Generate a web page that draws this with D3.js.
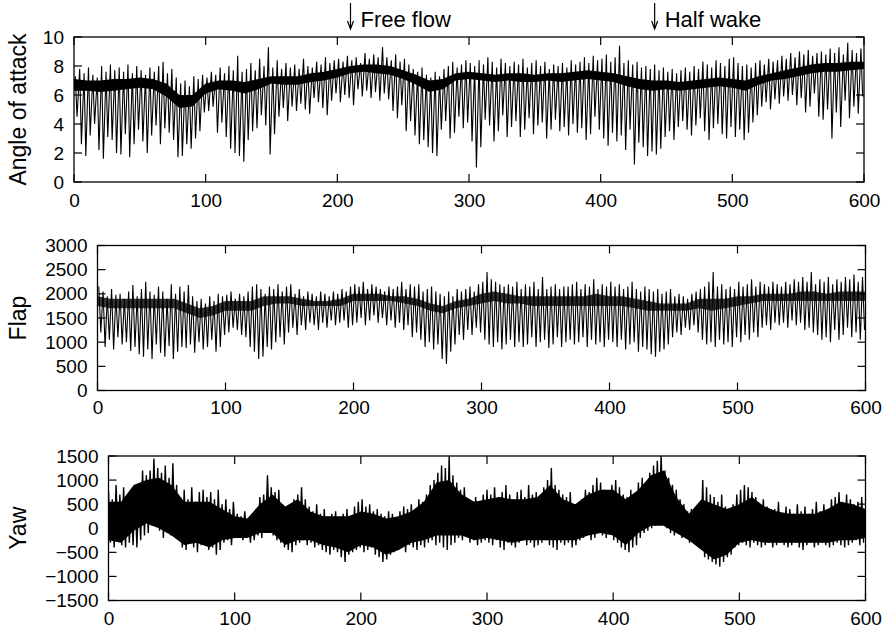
<!DOCTYPE html>
<html>
<head>
<meta charset="utf-8">
<script src="https://cdn.jsdelivr.net/npm/d3@7"></script>
<style>
  html, body { margin: 0; padding: 0; background: #fff; }
  svg { display: block; }
</style>
</head>
<body>
<script>
// ---- Time axis --------------------------------------------------------
const xTicks = [0, 100, 200, 300, 400, 500, 600];

// Rotor revolutions: one max/min pair per revolution (180 over 600 s)
const revTimes = d3.range(180).map(i => 1 + i * 10 / 3);
// Band envelopes sampled every 10 s
const bandTimes = d3.range(0, 601, 10);
// Yaw extremes sampled every 3 s
const yawTimes = d3.range(0, 600, 3);

// ---- Angle of attack (deg) --------------------------------------------
const aoaTicks = [0, 2, 4, 6, 8, 10];
const aoaMin = [
  4.5, 2.6, 1.8, 3.2, 4.0, 2.2, 1.6, 3.1, 2.9, 2.0,
  1.9, 3.3, 1.7, 2.6, 3.6, 2.8, 2.0, 3.2, 3.9, 2.6,
  3.7, 3.4, 2.9, 1.7, 1.8, 2.6, 2.3, 3.0, 3.5, 4.8,
  4.9, 5.2, 3.4, 4.1, 3.1, 2.3, 2.0, 1.8, 1.4, 2.9,
  3.5, 3.7, 4.6, 3.9, 1.9, 3.3, 4.5, 5.1, 4.2, 5.2,
  4.9, 5.4, 5.0, 4.7, 5.8, 5.5, 5.1, 4.6, 5.6, 6.1,
  5.5, 6.0, 5.8, 5.3, 6.4, 5.9, 6.3, 5.8, 6.2, 5.6,
  6.1, 5.7, 4.9, 4.4, 5.3, 3.5, 4.2, 3.2, 2.6, 2.9,
  2.4, 2.0, 1.8, 3.6, 4.2, 3.0, 3.4, 4.5, 3.7, 4.1,
  2.8, 1.0, 2.4, 4.3, 3.9, 2.8, 3.5, 4.6, 3.1, 3.8,
  4.2, 3.1, 3.6, 4.4, 3.3, 3.9, 4.1, 3.0, 3.6, 4.3,
  3.5, 3.8, 3.2, 4.0, 3.4, 3.7, 2.9, 3.3, 4.5, 3.6,
  3.0, 2.5, 3.4, 2.8, 3.2, 2.2, 3.6, 1.2, 2.7, 2.4,
  1.8, 2.1, 1.9, 2.3, 3.1, 3.5, 2.9, 3.8, 4.2, 3.6,
  3.2, 3.9, 4.4, 3.5, 2.9, 3.7, 4.0, 3.3, 3.0, 3.8,
  3.1, 3.6, 2.9, 3.4, 4.1, 4.6, 5.2, 5.5, 5.0, 5.7,
  5.4, 5.9, 5.6, 6.0, 5.3, 5.8, 4.8, 5.2, 6.1, 4.5,
  4.3, 5.0, 3.0, 4.8, 3.8, 5.6, 4.4, 5.2, 4.7, 5.9
];
const aoaMax = [
  7.3, 7.8, 7.5, 7.9, 7.4, 7.2, 8.0, 7.6, 8.1, 7.7,
  7.9, 7.6, 8.1, 7.5, 8.0, 7.7, 7.4, 7.9, 7.6, 8.0,
  8.3, 7.5, 7.8, 7.2, 6.8, 7.0, 6.6, 7.3, 7.1, 7.4,
  7.2, 7.6, 7.4, 7.9, 7.5, 8.0, 7.7, 8.7, 7.6, 7.8,
  8.2, 7.7, 8.5, 8.0, 9.3, 7.9, 8.4, 7.8, 8.2, 7.9,
  8.1, 7.8, 8.5, 8.0, 7.9, 8.3, 8.1, 8.6, 8.2, 8.4,
  8.5, 8.3, 8.7, 8.4, 8.6, 8.2, 8.9, 8.5, 8.8, 8.6,
  9.3, 8.6, 8.4, 8.8, 8.3, 8.5, 8.1, 7.8, 7.6, 7.9,
  7.4, 7.2, 7.6, 7.3, 7.8, 8.0, 8.3, 7.9, 8.1, 8.4,
  8.2, 8.0, 8.4, 8.1, 8.6, 8.3, 7.9, 8.5, 8.2, 8.0,
  8.3, 8.1, 8.5, 7.9, 8.2, 8.4, 8.0, 8.3, 7.8, 8.1,
  8.0, 8.2, 7.9, 8.4, 8.1, 8.3, 8.6, 8.2, 8.7, 8.4,
  8.5, 8.8, 8.3, 8.6, 9.4, 8.2, 8.4, 8.1, 8.3, 7.9,
  8.0, 7.8, 8.1, 7.7, 7.9, 7.6, 7.8, 7.5, 7.7, 7.9,
  7.6, 8.0, 7.8, 8.3, 8.1, 7.9, 8.4, 8.2, 8.0, 8.5,
  8.6, 8.2, 8.0, 8.1, 7.9, 8.2, 8.4, 8.1, 8.5, 8.3,
  8.4, 8.7, 8.5, 8.9, 8.6, 9.0, 8.8, 9.1, 8.7, 8.9,
  9.0, 8.8, 9.2, 8.9, 9.3, 8.8, 9.6, 9.1, 8.9, 9.2
];
const aoaBandLo = [
  6.3, 6.3, 6.2, 6.3, 6.4, 6.5, 6.4, 5.9, 5.1, 5.2,
  6.1, 6.4, 6.3, 6.1, 6.4, 6.8, 6.7, 6.7, 6.9, 7.0,
  7.2, 7.5, 7.6, 7.5, 7.4, 7.1, 6.7, 6.2, 6.4, 7.0,
  7.1, 7.0, 6.9, 7.0, 6.9, 6.9, 7.0, 6.9, 7.0, 7.1,
  7.0, 6.9, 6.6, 6.4, 6.3, 6.4, 6.3, 6.4, 6.5, 6.6,
  6.5, 6.3, 6.7, 7.0, 7.1, 7.3, 7.5, 7.6, 7.6, 7.7, 7.8
];
const aoaBandHi = [
  7.1, 7.0, 7.0, 7.1, 7.1, 7.2, 7.1, 6.8, 6.0, 6.0,
  6.8, 7.0, 7.0, 6.9, 7.1, 7.3, 7.3, 7.3, 7.5, 7.6,
  7.8, 8.0, 8.1, 8.1, 8.0, 7.7, 7.4, 7.0, 7.1, 7.5,
  7.6, 7.5, 7.4, 7.5, 7.5, 7.4, 7.5, 7.5, 7.6, 7.7,
  7.6, 7.5, 7.3, 7.1, 7.0, 7.0, 6.9, 7.0, 7.1, 7.2,
  7.1, 7.0, 7.3, 7.5, 7.7, 7.9, 8.1, 8.2, 8.2, 8.3, 8.3
];

// ---- Flap bending moment ------------------------------------------------
const flapTicks = [0, 500, 1000, 1500, 2000, 2500, 3000];
const flapMin = [
  1200, 900, 1050, 850, 1100, 950, 1000, 820, 900, 750,
  700, 850, 650, 950, 780, 700, 920, 650, 800, 900,
  880, 950, 780, 1000, 850, 900, 1050, 800, 900, 1150,
  1200, 1300, 1250, 1150, 1100, 900, 800, 650, 700, 900,
  850, 1000, 1100, 950, 1200, 1300, 1150, 1350, 1250, 1400,
  1350, 1250, 1400, 1300, 1450, 1350, 1400, 1450, 1300, 1350,
  1400, 1500, 1350, 1450, 1550, 1400, 1500, 1350, 1450, 1300,
  1400, 1250, 1350, 1100, 1200, 1050, 900, 1000, 850, 950,
  650, 550, 800, 950, 1150, 1050, 1250, 1150, 1300, 1200,
  1050, 950, 900, 1000, 850, 950, 1050, 900, 1000, 900,
  950, 1100, 900, 1000, 1050, 880, 950, 1100, 900, 1000,
  1050, 950, 1000, 1100, 900, 1050, 950, 1000, 900, 1050,
  1000, 900, 1050, 850, 950, 1000, 800, 900, 850, 750,
  700, 800, 850, 950, 1100, 1200, 1150, 1300, 1250, 1350,
  1200, 1050, 950, 1000, 900, 1050, 950, 1000, 900, 1100,
  1000, 1150, 1050, 1200, 1100, 1300, 1350, 1250, 1400, 1350,
  1400, 1300, 1450, 1350, 1400, 1250, 1300, 1200, 1150, 1050,
  1100, 1000, 1250, 1050, 1150, 1300, 1100, 1200, 1050, 1250
];
const flapMax = [
  2150, 2050, 1950, 2100, 1980, 2000, 1900, 2050, 2180, 1950,
  2100, 2250, 2050, 1980, 2150, 2050, 1900, 2200, 2000, 2150,
  2050, 2180, 1950, 1850, 1900, 1800, 1950, 1850, 2000, 1950,
  1980, 2050, 1900, 2000, 1950, 2050, 2150, 2200, 2100, 2000,
  2150, 2100, 2200, 2050, 2150, 2200, 2000, 2100, 1950, 2050,
  2000, 1950, 2050, 2000, 1950, 2050, 2000, 2100, 2050, 2150,
  2200, 2150, 2250, 2100, 2200, 2150, 2100, 2050, 2150, 2100,
  2150, 2250, 2100, 2200, 2150, 2200, 2050, 2100, 2150, 2050,
  2000, 1950, 2050, 1950, 2100, 2050, 2100, 2150, 2050, 2200,
  2250, 2450, 2300, 2250, 2200, 2150, 2200, 2150, 2250, 2100,
  2200, 2150, 2250, 2100, 2350, 2100, 2150, 2200, 2100, 2150,
  2150, 2200, 2250, 2100, 2200, 2150, 2300, 2100, 2200, 2150,
  2250, 2150, 2200, 2100, 2150, 2250, 2100, 2050, 2150, 2100,
  2050, 2100, 2000, 2050, 2100, 1950, 2000, 1950, 1900, 2000,
  2050, 2100, 2150, 2250, 2450, 2150, 2200, 2100, 2150, 2100,
  2250, 2150, 2200, 2300, 2150, 2250, 2200, 2150, 2250, 2200,
  2150, 2250, 2200, 2300, 2250, 2350, 2250, 2450, 2200, 2300,
  2250, 2350, 2200, 2300, 2250, 2350, 2300, 2400, 2250, 2350
];
const flapBandLo = [
  1750, 1700, 1700, 1700, 1700, 1700, 1700, 1600, 1500, 1550,
  1650, 1650, 1650, 1750, 1800, 1800, 1750, 1750, 1750, 1750,
  1850, 1850, 1850, 1850, 1800, 1750, 1650, 1600, 1700, 1750,
  1800, 1850, 1800, 1800, 1750, 1750, 1750, 1750, 1750, 1750,
  1750, 1750, 1700, 1650, 1650, 1650, 1650, 1700, 1650, 1700,
  1750, 1800, 1850, 1850, 1850, 1850, 1850, 1850, 1850, 1850, 1850
];
const flapBandHi = [
  1950, 1900, 1900, 1900, 1900, 1900, 1900, 1800, 1700, 1750,
  1850, 1850, 1850, 1950, 1950, 1950, 1900, 1850, 1850, 1900,
  2000, 2000, 2000, 1950, 1950, 1900, 1800, 1750, 1850, 1900,
  2000, 2050, 2000, 1950, 1950, 1950, 1950, 1950, 1950, 2000,
  1950, 1950, 1900, 1850, 1800, 1800, 1800, 1900, 1900, 1900,
  1950, 1950, 2000, 2000, 2000, 2050, 2050, 2000, 2050, 2050, 2050
];

// ---- Yaw bending moment -------------------------------------------------
const yawTicks = [-1500, -1000, -500, 0, 500, 1000, 1500];
const yawMax = [
  750, 600, 900, 700, 850, 650, 500, 800, 700, 1200,
  1100, 1200, 1450, 1250, 1150, 1300, 1050, 1350, 900, 650,
  800, 600, 850, 550, 750, 800, 650, 750, 600, 800,
  500, 600, 400, 550, 300, 250, 350, 200, 300, 400,
  650, 700, 1100, 850, 750, 800, 500, 350, 450, 600,
  700, 850, 600, 450, 350, 500, 300, 400, 250, 300,
  350, 200, 300, 400, 250, 450, 550, 600, 450, 500,
  350, 400, 300, 250, 350, 300, 200, 350, 450, 400,
  500, 400, 600, 550, 700, 900, 1000, 1150, 1300, 1250,
  1500, 1100, 950, 800, 850, 600, 500, 650, 550, 700,
  800, 700, 850, 650, 750, 900, 700, 600, 750, 800,
  650, 900, 700, 750, 600, 850, 1000, 1250, 900, 800,
  700, 650, 750, 500, 400, 600, 800, 750, 900, 1050,
  950, 800, 700, 900, 1000, 850, 700, 650, 800, 600,
  950, 1050, 900, 1150, 1300, 1400, 1500, 1200, 1050, 900,
  800, 600, 500, 350, 400, 300, 500, 1000, 850, 700,
  650, 550, 700, 450, 350, 500, 700, 800, 900, 850,
  750, 650, 500, 600, 450, 350, 400, 550, 300, 450,
  400, 300, 500, 350, 450, 300, 400, 550, 350, 500,
  400, 600, 650, 750, 550, 700, 600, 500, 550, 650
];
const yawMin = [
  -300, -400, -200, -350, -400, -300, -350, -400, -250, -150,
  -100, 50, 100, -50, -200, -100, -150, -50, -200, -400,
  -450, -300, -400, -500, -350, -300, -450, -400, -550, -450,
  -300, -250, -350, -200, -150, -250, -200, -300, -250, -150,
  -200, -100, -50, -150, -250, -300, -400, -450, -500, -350,
  -300, -250, -350, -300, -400, -350, -450, -500, -550, -450,
  -500, -600, -700, -550, -500, -450, -400, -500, -450, -400,
  -550, -600, -700, -650, -550, -500, -450, -400, -500, -350,
  -400, -450, -350, -400, -300, -250, -350, -300, -400, -450,
  -350, -300, -200, -250, -100, -300, -250, -350, -300, -250,
  -300, -350, -250, -400, -450, -300, -350, -400, -300, -250,
  -350, -300, -400, -350, -300, -250, -350, -400, -450, -300,
  -350, -300, -400, -350, -250, -200, -150, -250, -200, -100,
  -150, -200, -100, -250, -300, -400, -450, -500, -400, -350,
  -200, -100, -50, 0, 50, 100, 150, 0, -100, -150,
  -100, -200, -150, -300, -250, -350, -400, -600, -650, -700,
  -750, -800, -700, -600, -550, -400, -350, -300, -350, -400,
  -300, -350, -400, -350, -300, -400, -350, -300, -350, -400,
  -350, -300, -400, -450, -350, -300, -400, -350, -300, -350,
  -400, -350, -300, -350, -400, -350, -300, -250, -350, -300
];
const yawBandHi = [
  550, 550, 900, 1000, 1050, 900, 550, 550, 550, 400,
  250, 200, 500, 700, 450, 600, 350, 250, 250, 250,
  350, 300, 200, 250, 350, 550, 950, 1000, 700, 550,
  600, 650, 600, 600, 650, 900, 600, 500, 700, 800,
  800, 600, 800, 1100, 1200, 650, 300, 600, 500, 400,
  500, 650, 450, 350, 300, 300, 300, 400, 550, 500, 400
];
const yawBandLo = [
  -250, -300, -50, 100, 0, -150, -350, -300, -400, -250,
  -200, -200, -100, -100, -350, -250, -250, -350, -400, -500,
  -350, -400, -550, -450, -300, -250, -150, -150, -150, -250,
  -200, -250, -300, -250, -250, -250, -250, -250, -150, -100,
  -150, -350, -100, 50, 50, -100, -250, -450, -650, -550,
  -300, -250, -300, -300, -300, -300, -300, -300, -250, -250, -200
];

// ---- Drawing ------------------------------------------------------------
const W = 887, H = 629;
const FONT = "'Liberation Sans', Arial, Helvetica, sans-serif";
const svg = d3.select("body").append("svg")
  .attr("width", W).attr("height", H)
  .style("font-family", FONT);

const panels = [
  {
    id: "aoa", title: "Angle of attack", left: 74, right: 864, top: 37, bottom: 182,
    domain: [0, 10], ticks: aoaTicks, xPad: 12,
    bandLo: aoaBandLo, bandHi: aoaBandHi, bandOpacity: 1,
    trace: { t: revTimes, lo: aoaMin, hi: aoaMax, drop: 1.3, w: 1.1 }
  },
  {
    id: "flap", title: "Flap", left: 97.5, right: 865.5, top: 245.5, bottom: 390.5,
    domain: [0, 3000], ticks: flapTicks, xPad: 10,
    bandLo: flapBandLo, bandHi: flapBandHi, bandOpacity: 0.8,
    trace: { t: revTimes, lo: flapMin, hi: flapMax, drop: 1.6, w: 1.1 }
  },
  {
    id: "yaw", title: "Yaw", left: 108.5, right: 865.5, top: 456, bottom: 600.5,
    domain: [-1500, 1500], ticks: yawTicks, xPad: 11,
    bandLo: yawBandLo, bandHi: yawBandHi, bandOpacity: 1,
    trace: { t: yawTimes, lo: yawMin, hi: yawMax, drop: 1.5, w: 1.4 }
  }
];

const TICK = 8;
const TICK_FONT = 19;

panels.forEach(p => {
  const x = d3.scaleLinear().domain([0, 600]).range([p.left, p.right]);
  const y = d3.scaleLinear().domain(p.domain).range([p.bottom, p.top]);
  const g = svg.append("g").attr("class", "panel-" + p.id);

  const clipId = "clip-" + p.id;
  g.append("clipPath").attr("id", clipId)
    .append("rect")
    .attr("x", p.left).attr("y", p.top)
    .attr("width", p.right - p.left).attr("height", p.bottom - p.top);

  const plot = g.append("g").attr("clip-path", `url(#${clipId})`);

  // dense core of the signal
  const area = d3.area()
    .x((d, i) => x(bandTimes[i]))
    .y0((d, i) => y(p.bandLo[i]))
    .y1((d, i) => y(p.bandHi[i]));
  plot.append("path")
    .datum(p.bandLo)
    .attr("d", area)
    .attr("fill", "#000")
    .attr("fill-opacity", p.bandOpacity);

  // trace: each sample goes from its maximum down to its minimum
  const tr = p.trace;
  const pts = [];
  tr.t.forEach((t, i) => {
    pts.push([t, tr.hi[i]]);
    pts.push([t + tr.drop, tr.lo[i]]);
  });
  plot.append("path")
    .datum(pts)
    .attr("d", d3.line().x(d => x(d[0])).y(d => y(d[1])))
    .attr("fill", "none")
    .attr("stroke", "#000")
    .attr("stroke-width", tr.w)
    .attr("stroke-linejoin", "miter");

  // inward ticks on all four sides
  const ticksG = g.append("g").attr("stroke", "#000").attr("stroke-width", 1.2);
  xTicks.forEach(t => {
    ticksG.append("line").attr("x1", x(t)).attr("x2", x(t))
      .attr("y1", p.bottom).attr("y2", p.bottom - TICK);
    ticksG.append("line").attr("x1", x(t)).attr("x2", x(t))
      .attr("y1", p.top).attr("y2", p.top + TICK);
  });
  p.ticks.forEach(t => {
    ticksG.append("line").attr("x1", p.left).attr("x2", p.left + TICK)
      .attr("y1", y(t)).attr("y2", y(t));
    ticksG.append("line").attr("x1", p.right).attr("x2", p.right - TICK)
      .attr("y1", y(t)).attr("y2", y(t));
  });

  // frame
  g.append("rect")
    .attr("x", p.left).attr("y", p.top)
    .attr("width", p.right - p.left).attr("height", p.bottom - p.top)
    .attr("fill", "none").attr("stroke", "#000").attr("stroke-width", 1.3);

  // tick labels via d3 axes (tick marks drawn above)
  const ax = g.append("g")
    .attr("transform", `translate(0,${p.bottom})`)
    .call(d3.axisBottom(x).tickValues(xTicks).tickSize(0).tickPadding(p.xPad).tickFormat(d3.format("d")));
  const ay = g.append("g")
    .attr("transform", `translate(${p.left},0)`)
    .call(d3.axisLeft(y).tickValues(p.ticks).tickSize(0).tickPadding(10).tickFormat(d3.format("d")));
  [ax, ay].forEach(a => {
    a.select(".domain").remove();
    a.selectAll("text")
      .attr("font-family", FONT)
      .attr("font-size", TICK_FONT)
      .attr("fill", "#000");
  });

  // axis title
  g.append("text")
    .attr("transform", `translate(26,${(p.top + p.bottom) / 2}) rotate(-90)`)
    .attr("text-anchor", "middle")
    .attr("font-size", 23)
    .attr("fill", "#000")
    .text(p.title);
});

// event markers above the top panel
const markers = [
  { t: 210, label: "Free flow" },
  { t: 441, label: "Half wake" }
];
const xTop = d3.scaleLinear().domain([0, 600]).range([panels[0].left, panels[0].right]);
const mk = svg.append("g").attr("class", "markers");
markers.forEach(m => {
  const mx = xTop(m.t);
  mk.append("line")
    .attr("x1", mx).attr("x2", mx).attr("y1", 3).attr("y2", 28)
    .attr("stroke", "#000").attr("stroke-width", 1.2);
  mk.append("path")
    .attr("d", `M${mx - 3},${21} L${mx},${29} L${mx + 3},${21}`)
    .attr("fill", "none").attr("stroke", "#000").attr("stroke-width", 1.2);
  mk.append("text")
    .attr("x", mx + 10).attr("y", 27)
    .attr("font-size", 22)
    .attr("fill", "#000")
    .text(m.label);
});
</script>
</body>
</html>
